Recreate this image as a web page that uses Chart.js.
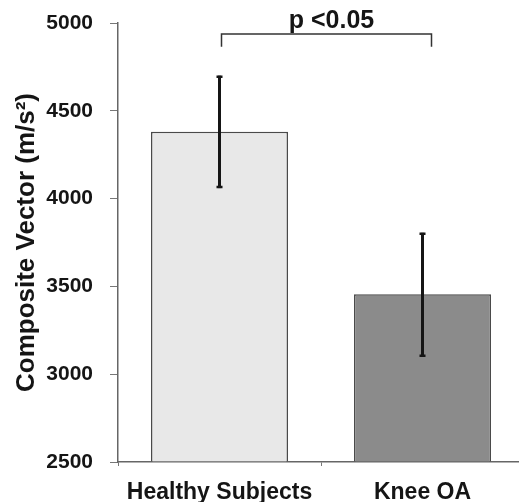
<!DOCTYPE html>
<html lang="en">
<head>
    <meta charset="UTF-8">
    <title>Composite Vector</title>
    <script src="https://cdn.jsdelivr.net/npm/chart.js"></script>
    <style>
        html, body { margin: 0; padding: 0; background: #fff; overflow: hidden; }
        #chart { display: block; }
    </style>
</head>
<body>
    <canvas id="chart" width="526" height="502"></canvas>

    <script>
        // values
        const categories = ['Healthy Subjects', 'Knee OA'];
        const means = [4380, 3455];
        const errUpper = [4700, 3805];
        const errLower = [4060, 3100];
        const yTicks = [2500, 3000, 3500, 4000, 4500, 5000];
        const barColors = ['#e8e8e8', '#8b8b8b'];
        const pLabel = 'p <0.05';
        const bracketTop = 4938;
        const bracketFoot = 4865;

        const fontFamily = '"Liberation Sans", Arial, sans-serif';
        const ink = '#151515';

        // error bars and significance bracket
        const extras = {
            id: 'extras',
            afterDatasetsDraw(chart) {
                const ctx = chart.ctx;
                const x = chart.scales.x;
                const y = chart.scales.y;
                ctx.save();
                ctx.strokeStyle = ink;
                ctx.lineCap = 'butt';

                means.forEach((m, i) => {
                    const px = x.getPixelForValue(i);
                    const top = y.getPixelForValue(errUpper[i]);
                    const bot = y.getPixelForValue(errLower[i]);
                    ctx.lineWidth = 3;
                    ctx.beginPath();
                    ctx.moveTo(px, top);
                    ctx.lineTo(px, bot);
                    ctx.stroke();
                    ctx.lineWidth = 2.5;
                    ctx.beginPath();
                    ctx.moveTo(px - 3, top + 1);
                    ctx.lineTo(px + 3, top + 1);
                    ctx.moveTo(px - 3, bot - 1);
                    ctx.lineTo(px + 3, bot - 1);
                    ctx.stroke();
                });

                const left = x.getPixelForValue(0) + 2;
                const right = x.getPixelForValue(1) + 9;
                const yTop = y.getPixelForValue(bracketTop);
                const yFoot = y.getPixelForValue(bracketFoot);
                ctx.lineWidth = 1.5;
                ctx.strokeStyle = '#333';
                ctx.beginPath();
                ctx.moveTo(left, yFoot);
                ctx.lineTo(left, yTop);
                ctx.lineTo(right, yTop);
                ctx.lineTo(right, yFoot);
                ctx.stroke();

                ctx.fillStyle = ink;
                ctx.font = 'bold 25px ' + fontFamily;
                ctx.textAlign = 'center';
                ctx.textBaseline = 'alphabetic';
                ctx.fillText(pLabel, (left + right) / 2 + 5, yTop - 6);
                ctx.restore();
            }
        };

        new Chart(document.getElementById('chart'), {
            type: 'bar',
            data: {
                labels: categories,
                datasets: [{
                    data: means,
                    base: 2500,
                    backgroundColor: barColors,
                    borderColor: '#4a4a4a',
                    borderWidth: 1.5,
                    borderSkipped: 'bottom',
                    barPercentage: 0.675,
                    categoryPercentage: 1.0
                }]
            },
            options: {
                responsive: false,
                animation: false,
                layout: { padding: { top: 23, right: 2, left: 0, bottom: 0 } },
                plugins: {
                    legend: { display: false },
                    tooltip: { enabled: false }
                },
                scales: {
                    x: {
                        offset: true,
                        grid: {
                            offset: true,
                            drawOnChartArea: false,
                            tickLength: 4,
                            color: '#777'
                        },
                        border: { color: '#666', width: 1.5 },
                        ticks: {
                            color: ink,
                            padding: 13,
                            font: { family: fontFamily, size: 23, weight: 'bold' }
                        },
                        afterFit(scale) {
                            scale.height = 40;
                            scale.paddingLeft = 0;
                            scale.paddingRight = 0;
                        }
                    },
                    y: {
                        min: 2500,
                        max: 5000,
                        afterBuildTicks(scale) {
                            scale.ticks = yTicks.map(v => ({ value: v }));
                        },
                        grid: {
                            drawOnChartArea: false,
                            tickLength: 8,
                            color: '#777'
                        },
                        border: { color: '#666', width: 1.5 },
                        ticks: {
                            color: ink,
                            padding: 17,
                            callback: v => String(v),
                            font: { family: fontFamily, size: 21, weight: 'bold' }
                        },
                        title: {
                            display: true,
                            text: 'Composite Vector (m/s²)',
                            color: ink,
                            padding: { top: 11, bottom: 0 },
                            font: { family: fontFamily, size: 26, weight: 'bold', lineHeight: 1.2 }
                        },
                        afterFit(scale) {
                            scale.width = 118;
                            scale.paddingTop = 0;
                            scale.paddingBottom = 0;
                        }
                    }
                }
            },
            plugins: [extras]
        });
    </script>
</body>
</html>
